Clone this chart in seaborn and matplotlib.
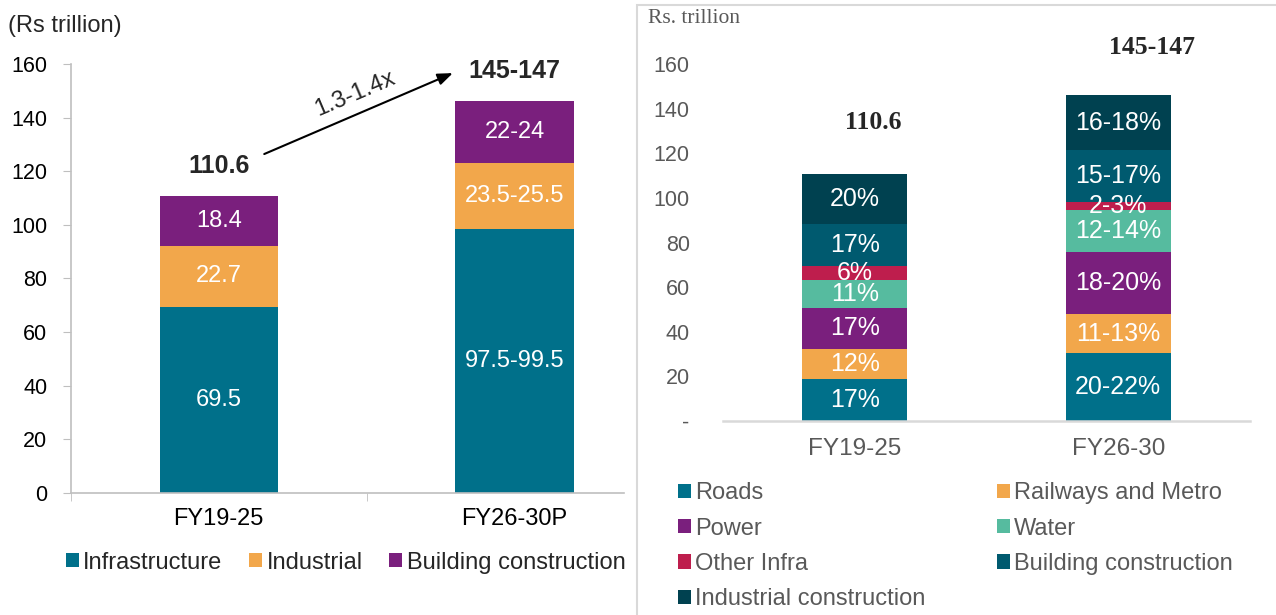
import numpy as np
import pandas as pd
import matplotlib
matplotlib.use("Agg")
import matplotlib.pyplot as plt
from matplotlib.patches import Patch, Rectangle
import seaborn as sns

# ---- left chart: construction spend by segment (Rs trillion) ----
left_cats = ["FY19-25", "FY26-30P"]
left_series = ["Infrastructure", "Industrial", "Building construction"]
infra_vals = [69.5, 98.5]
industrial_vals = [22.7, 24.5]
building_vals = [18.4, 23.0]
infra_labels = ["69.5", "97.5-99.5"]
industrial_labels = ["22.7", "23.5-25.5"]
building_labels = ["18.4", "22-24"]
left_totals = ["110.6", "145-147"]
growth_label = "1.3-1.4x"

# ---- right chart: infra / building / industrial split ----
right_cats = ["FY19-25", "FY26-30"]
right_series = ["Roads", "Railways and Metro", "Power", "Water", "Other Infra",
                "Building construction", "Industrial construction"]
right_total_vals = [110.6, 146.0]
right_total_labels = ["110.6", "145-147"]
share_fy19 = [17, 12, 17, 11, 6, 17, 20]
share_fy26 = [21, 12, 19, 13, 2.5, 16, 17]
share_labels_fy19 = ["17%", "12%", "17%", "11%", "6%", "17%", "20%"]
share_labels_fy26 = ["20-22%", "11-13%", "18-20%", "12-14%", "2-3%", "15-17%", "16-18%"]

TEAL = "#00708A"
ORANGE = "#F2A74B"
PURPLE = "#7A1F7D"
GREEN = "#56BB9F"
RED = "#BE1E4D"
DARK_TEAL = "#005A6F"
DARKEST = "#004150"
GREY_TXT = "#595959"

left_colors = [TEAL, ORANGE, PURPLE]
right_colors = [TEAL, ORANGE, PURPLE, GREEN, RED, DARK_TEAL, DARKEST]

sns.set_style("white")
plt.rcParams["font.family"] = ["Liberation Sans", "DejaVu Sans"]
plt.rcParams["axes.unicode_minus"] = False


def stacked_bars(ax, cats, seg_values, colors, width):
    """Draw stacked bars by overlaying cumulative totals, tallest first."""
    seg = np.array(seg_values, dtype=float)
    cum = np.cumsum(seg, axis=0)
    for i in reversed(range(len(seg))):
        df = pd.DataFrame({"cat": cats, "val": cum[i]})
        sns.barplot(data=df, x="cat", y="val", color=colors[i], saturation=1,
                    width=width, ax=ax, linewidth=0)
    return cum


def label_segments(ax, seg_values, cum, labels, size):
    seg = np.array(seg_values, dtype=float)
    for i in range(len(seg)):
        for j in range(seg.shape[1]):
            ax.text(j, cum[i][j] - seg[i][j] / 2, labels[i][j], ha="center",
                    va="center", color="white", fontsize=size)


def draw_left(fig):
    ax = fig.add_axes([0.0556, 0.1984, 0.4334, 0.6976])
    ax.set_zorder(0)
    segs = [infra_vals, industrial_vals, building_vals]
    cum = stacked_bars(ax, left_cats, segs, left_colors, 0.4)
    label_segments(ax, segs, cum, [infra_labels, industrial_labels, building_labels], 17)

    ax.set_ylim(0, 160)
    ax.set_xlim(-0.5, 1.37)
    ax.set_yticks(range(0, 161, 20))
    ax.set_xlabel("")
    ax.set_ylabel("")
    ax.set_xticks([0, 1])
    ax.set_xticklabels(left_cats)
    ax.set_xticks([-0.5, 0.5], minor=True)
    ax.tick_params(axis="y", labelsize=15.5, length=6, color="#BFBFBF", pad=11,
                   labelcolor="black", left=True)
    ax.tick_params(axis="x", which="major", labelsize=17, length=0, pad=11,
                   labelcolor="black")
    ax.tick_params(axis="x", which="minor", length=6, color="#BFBFBF", bottom=True)
    for s in ["top", "right"]:
        ax.spines[s].set_visible(False)
    for s in ["left", "bottom"]:
        ax.spines[s].set_color("#BFBFBF")
        ax.spines[s].set_linewidth(1.2)

    # totals + growth arrow
    ax.text(0, 122, left_totals[0], ha="center", va="center", fontsize=18,
            fontweight="bold")
    ax.text(1, 157.5, left_totals[1], ha="center", va="center", fontsize=18,
            fontweight="bold")
    ax.annotate("", xy=(0.80, 157), xytext=(0.145, 126),
                arrowprops=dict(arrowstyle="-|>,head_length=0.9,head_width=0.35",
                                color="black", lw=1.5))
    ax.text(0.46, 149, growth_label, ha="center", va="center", fontsize=17,
            rotation=23)

    fig.text(0.006, 0.958, "(Rs trillion)", ha="left", va="center", fontsize=17)

    handles = [Patch(facecolor=c, edgecolor="none") for c in left_colors]
    ax.legend(handles, left_series, ncol=3, loc="center left",
              bbox_to_anchor=(0.044, 0.085), bbox_transform=fig.transFigure,
              frameon=False, fontsize=17, handlelength=0.55, handleheight=0.55,
              handletextpad=0.2, columnspacing=1.12, borderaxespad=0)


def draw_right(fig):
    # white panel with light border; sits above the left legend overflow
    fig.patches.append(Rectangle((637 / 1276, -0.01), 1.0, 0.992 + 0.01,
                                 transform=fig.transFigure, facecolor="white",
                                 edgecolor="#D9D9D9", linewidth=1.5, zorder=1))

    ax = fig.add_axes([0.5666, 0.3154, 0.4130, 0.5805])
    ax.set_zorder(2)
    ax.patch.set_alpha(0)
    shares = np.array([share_fy19, share_fy26], dtype=float)
    seg = (shares / shares.sum(axis=1, keepdims=True) * np.array(right_total_vals)[:, None]).T
    cum = stacked_bars(ax, right_cats, seg, right_colors, 0.4)
    labels = [list(p) for p in zip(share_labels_fy19, share_labels_fy26)]
    label_segments(ax, seg, cum, labels, 18)

    ax.set_ylim(0, 160)
    ax.set_xlim(-0.5, 1.5)
    ax.set_xlabel("")
    ax.set_ylabel("")
    ax.set_yticks(range(0, 161, 20))
    ax.set_yticklabels(["-"] + [str(v) for v in range(20, 161, 20)])
    ax.tick_params(axis="y", labelsize=15.5, length=0, pad=24, labelcolor=GREY_TXT)
    ax.tick_params(axis="x", labelsize=17.5, length=0, pad=12, labelcolor=GREY_TXT)
    for s in ["top", "right", "left"]:
        ax.spines[s].set_visible(False)
    ax.spines["bottom"].set_color("#D9D9D9")
    ax.spines["bottom"].set_linewidth(1.8)

    serif = ["Liberation Serif", "DejaVu Serif"]
    ax.text(0.07, 134, right_total_labels[0], ha="center", va="center",
            fontsize=18.5, fontweight="bold", family=serif)
    ax.text(1.13, 167.5, right_total_labels[1], ha="center", va="center",
            fontsize=18.5, fontweight="bold", family=serif, clip_on=False)
    fig.text(0.508, 0.970, "Rs. trillion", ha="left", va="center", fontsize=15.5,
             color=GREY_TXT, family=serif, zorder=3)

    # legend fills row by row in the reference: reorder for column-major layout
    order = [0, 2, 4, 6, 1, 3, 5]
    handles = [Patch(facecolor=right_colors[i], edgecolor="none") for i in order]
    names = [right_series[i] for i in order]
    leg = ax.legend(handles, names, ncol=2, loc="upper left",
                    bbox_to_anchor=(0.5237, 0.231), bbox_transform=fig.transFigure,
                    frameon=False, fontsize=17, handlelength=0.55,
                    handleheight=0.55, handletextpad=0.2, columnspacing=3.0,
                    labelspacing=0.56, borderaxespad=0)
    for t in leg.get_texts():
        t.set_color(GREY_TXT)


def main():
    fig = plt.figure(figsize=(12.76, 6.15), dpi=100)
    draw_left(fig)
    draw_right(fig)
    fig.savefig("out.png", dpi=100, facecolor="white")


if __name__ == "__main__":
    main()
